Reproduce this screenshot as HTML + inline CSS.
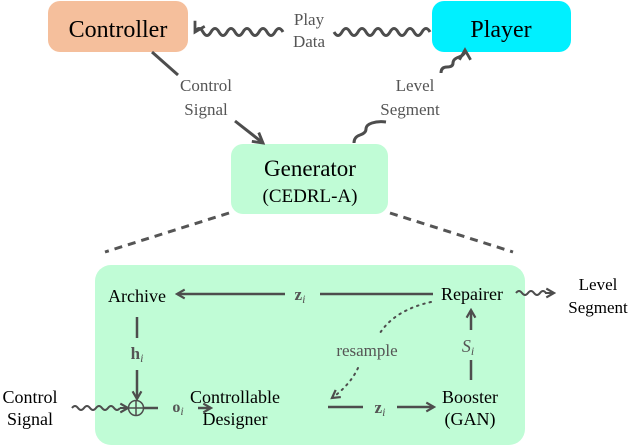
<!DOCTYPE html>
<html><head><meta charset="utf-8"><style>
html,body{margin:0;padding:0;background:#fff;}
svg{display:block;}
svg text{font-family:"Liberation Serif","Noto Serif CJK SC","DejaVu Serif",serif;}
</style></head><body>
<svg width="640" height="448" viewBox="0 0 640 448" xmlns="http://www.w3.org/2000/svg" style="font-family:'Liberation Serif','Noto Serif CJK SC','DejaVu Serif',serif">
<defs>
<marker id="ar" viewBox="0 0 10 10" refX="8" refY="5" markerWidth="11" markerHeight="11" markerUnits="userSpaceOnUse" orient="auto">
<path d="M1,1 L8,5 L1,9" fill="none" stroke="#4d4d4d" stroke-width="2"/>
</marker>
<marker id="ar2" viewBox="0 0 10 10" refX="8" refY="5" markerWidth="14" markerHeight="14" markerUnits="userSpaceOnUse" orient="auto">
<path d="M1,1 L8,5 L1,9" fill="none" stroke="#4d4d4d" stroke-width="2"/>
</marker>
</defs>
<rect x="48" y="1" width="140" height="51" rx="12" fill="#f5bf9c"/>
<text x="118" y="37" font-size="24" text-anchor="middle" fill="#000">Controller</text>
<rect x="432" y="1" width="139" height="51" rx="12" fill="#00f0ff"/>
<text x="501" y="37" font-size="24" text-anchor="middle" fill="#000">Player</text>
<rect x="231" y="144" width="157" height="70" rx="12" fill="#c0fcd6"/>
<text x="310" y="176" font-size="23" text-anchor="middle">Generator</text>
<text x="310" y="202" font-size="19" text-anchor="middle">(CEDRL-A)</text>

<path d="M430,32 q-4,-7 -8,0 t-8,0 t-8,0 t-8,0 t-8,0 t-8,0 t-8,0 t-8,0 t-8,0 t-8,0 t-8,0 t-8,0" fill="none" stroke="#4d4d4d" stroke-width="3"/>
<path d="M283,32 q-4,-7 -8,0 t-8,0 t-8,0 t-8,0 t-8,0 t-8,0 t-8,0 t-8,0 t-8,0 t-8,0 t-8,0" fill="none" stroke="#4d4d4d" stroke-width="3" marker-end="url(#ar2)"/>
<text x="309" y="25" font-size="17" text-anchor="middle" fill="#555">Play</text>
<text x="309" y="47" font-size="17" text-anchor="middle" fill="#555">Data</text>

<line x1="152" y1="52" x2="178" y2="75" stroke="#4d4d4d" stroke-width="3"/>
<line x1="235" y1="121" x2="263" y2="143" stroke="#4d4d4d" stroke-width="3" marker-end="url(#ar2)"/>
<text x="206" y="91" font-size="17" text-anchor="middle" fill="#555">Control</text>
<text x="206" y="115" font-size="17" text-anchor="middle" fill="#555">Signal</text>

<path d="M354,143 q0,-6 6,-8 t6,-6 t6,-6 t14,-1" fill="none" stroke="#4d4d4d" stroke-width="3"/>
<path d="M441,73 q0,-6 6,-6 t6,-4 t6,-6 t6,-7" fill="none" stroke="#4d4d4d" stroke-width="3" marker-end="url(#ar2)"/>
<text x="415" y="91" font-size="17" text-anchor="middle" fill="#555">Level</text>
<text x="410" y="115" font-size="17" text-anchor="middle" fill="#555">Segment</text>

<line x1="229" y1="213" x2="105" y2="252" stroke="#555" stroke-width="3" stroke-dasharray="8,6"/>
<line x1="390" y1="213" x2="513" y2="252" stroke="#555" stroke-width="3" stroke-dasharray="8,6"/>

<rect x="95" y="265" width="430" height="180" rx="16" fill="#c0fcd6"/>

<text x="137" y="302" font-size="18" text-anchor="middle">Archive</text>
<text x="472" y="300" font-size="18" text-anchor="middle">Repairer</text>
<text x="598" y="290" font-size="17" text-anchor="middle">Level</text>
<text x="598" y="313" font-size="17" text-anchor="middle">Segment</text>
<text x="235" y="403" font-size="18" text-anchor="middle">Controllable</text>
<text x="235" y="425" font-size="18" text-anchor="middle">Designer</text>
<text x="470" y="403" font-size="18" text-anchor="middle">Booster</text>
<text x="470" y="425" font-size="18" text-anchor="middle">(GAN)</text>
<text x="30" y="403" font-size="18" text-anchor="middle">Control</text>
<text x="30" y="425" font-size="18" text-anchor="middle">Signal</text>

<line x1="433" y1="294" x2="320" y2="294" stroke="#4d4d4d" stroke-width="2.5"/>
<line x1="285" y1="294" x2="177" y2="294" stroke="#4d4d4d" stroke-width="2.5" marker-end="url(#ar)"/>
<text x="300" y="300" font-size="17" text-anchor="middle" fill="#555" font-weight="bold">z<tspan font-size="12" font-style="italic" font-weight="normal" dy="3">i</tspan></text>

<line x1="137" y1="317" x2="137" y2="338" stroke="#4d4d4d" stroke-width="2.5"/>
<text x="137" y="359" font-size="17" text-anchor="middle" fill="#555" font-weight="bold">h<tspan font-size="12" font-style="italic" font-weight="normal" dy="3">i</tspan></text>
<line x1="137" y1="370" x2="137" y2="399" stroke="#4d4d4d" stroke-width="2.5" marker-end="url(#ar)"/>
<circle cx="136" cy="408" r="7.5" fill="none" stroke="#4d4d4d" stroke-width="1.5"/>
<line x1="128.5" y1="408" x2="143.5" y2="408" stroke="#4d4d4d" stroke-width="1.5"/>
<line x1="136" y1="400.5" x2="136" y2="415.5" stroke="#4d4d4d" stroke-width="1.5"/>

<path d="M72,408 q3,-4 6,0 t6,0 t6,0 t6,0 t6,0 t6,0 t6,0 t6,0" fill="none" stroke="#4d4d4d" stroke-width="2"/>
<line x1="120" y1="408" x2="128" y2="408" stroke="#4d4d4d" stroke-width="2" marker-end="url(#ar)"/>

<line x1="144" y1="408" x2="158" y2="408" stroke="#4d4d4d" stroke-width="2.5"/>
<text x="178" y="412" font-size="16" text-anchor="middle" fill="#555" font-weight="bold">o<tspan font-size="12" font-style="italic" font-weight="normal" dy="3">i</tspan></text>
<line x1="198" y1="408" x2="211" y2="408" stroke="#4d4d4d" stroke-width="2.5" marker-end="url(#ar)"/>

<line x1="328" y1="407" x2="363" y2="407" stroke="#4d4d4d" stroke-width="2.5"/>
<text x="380" y="413" font-size="17" text-anchor="middle" fill="#555" font-weight="bold">z<tspan font-size="12" font-style="italic" font-weight="normal" dy="3">i</tspan></text>
<line x1="397" y1="407" x2="434" y2="407" stroke="#4d4d4d" stroke-width="2.5" marker-end="url(#ar)"/>

<line x1="471" y1="380" x2="471" y2="360" stroke="#4d4d4d" stroke-width="2.5"/>
<text x="468" y="352" font-size="18" text-anchor="middle" fill="#555" font-style="italic">S<tspan font-size="12" dy="3">i</tspan></text>
<line x1="471" y1="330" x2="471" y2="310" stroke="#4d4d4d" stroke-width="2.5" marker-end="url(#ar)"/>

<path d="M431,302 Q395,310 380,333" fill="none" stroke="#4d4d4d" stroke-width="2" stroke-dasharray="1.5,5" stroke-linecap="round"/>
<path d="M358,368 Q350,385 332,398" fill="none" stroke="#4d4d4d" stroke-width="2" stroke-dasharray="1.5,5" stroke-linecap="round" marker-end="url(#ar)"/>
<text x="367" y="356" font-size="17" text-anchor="middle" fill="#555">resample</text>

<path d="M516,293 q3,-4 6,0 t6,0 t6,0 t6,0 t6,0" fill="none" stroke="#4d4d4d" stroke-width="2"/>
<line x1="545" y1="293" x2="554" y2="293" stroke="#4d4d4d" stroke-width="2" marker-end="url(#ar)"/>
</svg>
</body></html>
